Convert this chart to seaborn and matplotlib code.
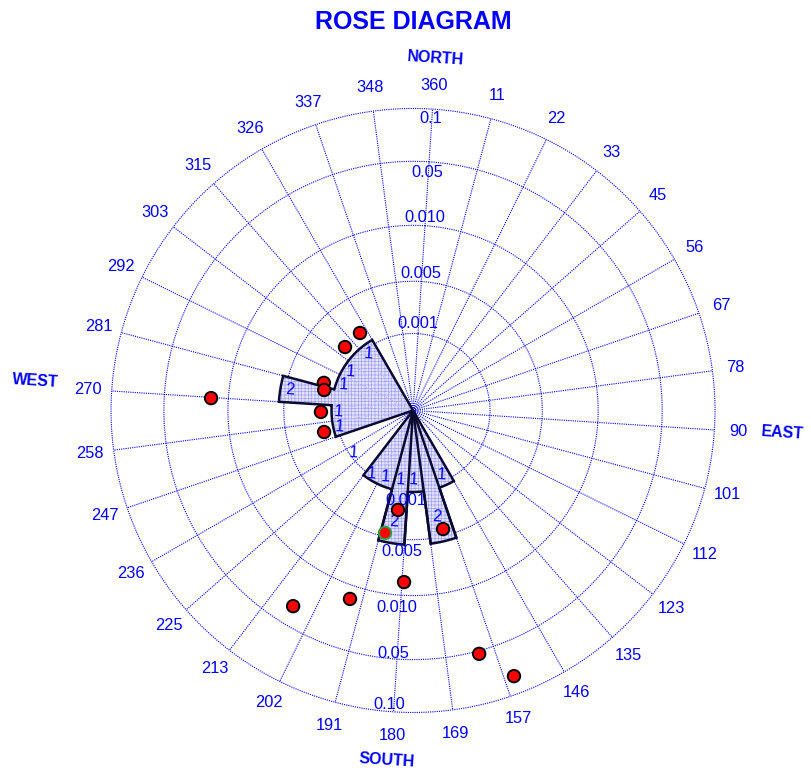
import numpy as np
import pandas as pd
import matplotlib
matplotlib.use("Agg")
import matplotlib.pyplot as plt
import seaborn as sns

# ---------------- data ----------------
SECTOR_WIDTH = 11.25  # degrees, 32 classes
# counts per sector k, sector k spans [k*11.25, (k+1)*11.25]
sector_counts = [0, 0, 0, 0, 0, 0, 0, 0, 0, 0, 0, 0, 0,
                 1, 2, 1, 2, 1, 1,
                 0, 0, 0,
                 1, 1, 2, 1, 1, 1, 1,
                 0, 0, 0]
# sectors whose petal edges are outlined all the way to the centre
full_edge_sectors = [14, 16]

angle_labels = ["360", "11", "22", "33", "45", "56", "67", "78", "90", "101",
                "112", "123", "135", "146", "157", "169", "180", "191", "202",
                "213", "225", "236", "247", "258", "270", "281", "292", "303",
                "315", "326", "337", "348"]

ring_radii = [0.255, 0.428, 0.613, 0.825, 1.0]
ring_labels_north = ["0.001", "0.005", "0.010", "0.05", "0.1"]
ring_labels_south = ["0.001", "0.005", "0.010", "0.05", "0.10"]

# observation points: bearing (deg) and normalised distance
point_bearing = [321.9, 309.3, 283.5, 279.3, 265.4, 252.7, 269.8, 184.9,
                 189.2, 162.1, 179.3, 194.8, 207.8, 161.1, 155.5]
point_dist = [0.311, 0.308, 0.309, 0.302, 0.305, 0.303, 0.670, 0.333,
              0.416, 0.405, 0.569, 0.658, 0.760, 0.835, 0.941]
point_edge = ["black"] * 8 + ["#2e9e44"] + ["black"] * 6

# count labels written on the diagram: bearing, distance, text
count_label_bearing = [318.3, 297.9, 286.4, 275.8, 265.4, 253.8, 230.7,
                       209.6, 199.2, 186.9, 176.1, 152.3, 186.3, 163.7]
count_label_dist = [0.240, 0.245, 0.246, 0.413, 0.247, 0.248, 0.243,
                    0.249, 0.238, 0.234, 0.230, 0.234, 0.374, 0.360]
count_label_text = ["1", "1", "1", "2", "1", "1", "1",
                    "1", "1", "1", "1", "1", "2", "2"]

directions = ["NORTH", "EAST", "SOUTH", "WEST"]

# ---------------- style ----------------
sns.set_style("white")
plt.rcParams["font.family"] = ["Liberation Sans", "DejaVu Sans"]
plt.rcParams["hatch.linewidth"] = 0.45

BLUE = "#0000ff"
ROT = 3.7  # the whole grid is turned slightly clockwise
GRID_LS = (0, (1, 1))


def petal_radius(c):
    return 0.095 + 0.175 * c


fig = plt.figure(figsize=(8.11, 7.71), dpi=100)
ax = fig.add_axes([0.1369, 0.0759, 0.7448, 0.7834], projection="polar")
ax.set_theta_zero_location("N", offset=-ROT)
ax.set_theta_direction(-1)
ax.set_ylim(0, 1)

# grid
n = len(angle_labels)
spoke_deg = np.arange(n) * SECTOR_WIDTH
ax.set_xticks(np.deg2rad(spoke_deg))
ax.set_xticklabels([])
ax.set_yticks(ring_radii[:-1])
ax.set_yticklabels([])
ax.grid(True, color=BLUE, linestyle=GRID_LS, linewidth=0.8)
ax.spines["polar"].set_visible(False)
ax.set_facecolor("white")
circ = np.linspace(0, 2 * np.pi, 721)
ax.plot(circ, np.full_like(circ, ring_radii[-1]), color=BLUE,
        linestyle=GRID_LS, linewidth=0.8, clip_on=False, zorder=1)

# petals
counts = np.array(sector_counts)
centers = np.deg2rad(spoke_deg + SECTOR_WIDTH / 2)
radii = np.where(counts > 0, petal_radius(counts), 0)
mask = counts > 0
ax.bar(centers[mask], radii[mask], width=np.deg2rad(SECTOR_WIDTH), bottom=0,
       color="#e2e2fb", edgecolor="#9c9cff", linewidth=0, hatch="+++++",
       zorder=2)

# outline of each contiguous run of petals
runs = []
k = 0
while k < n:
    if counts[k] > 0:
        s = k
        while k + 1 < n and counts[k + 1] > 0:
            k += 1
        runs.append((s, k))
    k += 1
for s, e in runs:
    th = [s * SECTOR_WIDTH]
    rr = [0.0]
    for j in range(s, e + 1):
        a = np.linspace(j * SECTOR_WIDTH, (j + 1) * SECTOR_WIDTH, 30)
        th.extend(a)
        rr.extend([petal_radius(counts[j])] * len(a))
    th.append((e + 1) * SECTOR_WIDTH)
    rr.append(0.0)
    ax.plot(np.deg2rad(th), rr, color="#0a0a30", lw=1.8, zorder=3,
            solid_joinstyle="miter")
for j in full_edge_sectors:
    for edge in (j, j + 1):
        ax.plot(np.deg2rad([edge * SECTOR_WIDTH] * 2),
                [0, petal_radius(counts[j])], color="#0a0a30", lw=1.8,
                zorder=3)

# count labels
for b, d, t in zip(count_label_bearing, count_label_dist, count_label_text):
    ax.text(np.deg2rad(b), d, t, color=BLUE, fontsize=11.5, ha="center",
            va="center", rotation=-ROT, zorder=4)

# points
df = pd.DataFrame({"theta": np.deg2rad(point_bearing), "r": point_dist,
                   "edge": point_edge})
sns.scatterplot(data=df, x="theta", y="r", ax=ax, color="#ff0000", s=80,
                edgecolor=df["edge"].tolist(), linewidth=1.4, zorder=5,
                legend=False)
ax.set_xlabel("")
ax.set_ylabel("")
ax.set_ylim(0, 1)

# angle labels
for deg, lab in zip(spoke_deg, angle_labels):
    ax.text(np.deg2rad(deg), 1.078, lab, color=BLUE, fontsize=11.8,
            ha="center", va="center", clip_on=False)

# ring labels
north_r = [0.290, 0.455, 0.641, 0.790, 0.969]
south_r = [0.298, 0.470, 0.656, 0.806, 0.978]
for lab, r in zip(ring_labels_north, north_r):
    ax.text(np.deg2rad(-0.3), r, lab, color=BLUE, fontsize=11.8, ha="center",
            va="center", zorder=4)
for lab, r in zip(ring_labels_south, south_r):
    ax.text(np.deg2rad(181.0), r, lab, color=BLUE, fontsize=11.8,
            ha="center", va="center", zorder=4)

# compass words
dir_theta = [0.0, 89.8, 180.6, 270.8]
dir_r = [1.169, 1.227, 1.161, 1.255]
for lab, t, r in zip(directions, dir_theta, dir_r):
    ax.text(np.deg2rad(t), r, lab, color=BLUE, fontsize=11.5,
            fontweight="bold", ha="center", va="center", rotation=-ROT,
            clip_on=False)

fig.text(0.5093, 1 - 22 / 771, "ROSE DIAGRAM", color=BLUE, fontsize=18,
         fontweight="bold", ha="center", va="center")

fig.savefig("out.png", dpi=100)
